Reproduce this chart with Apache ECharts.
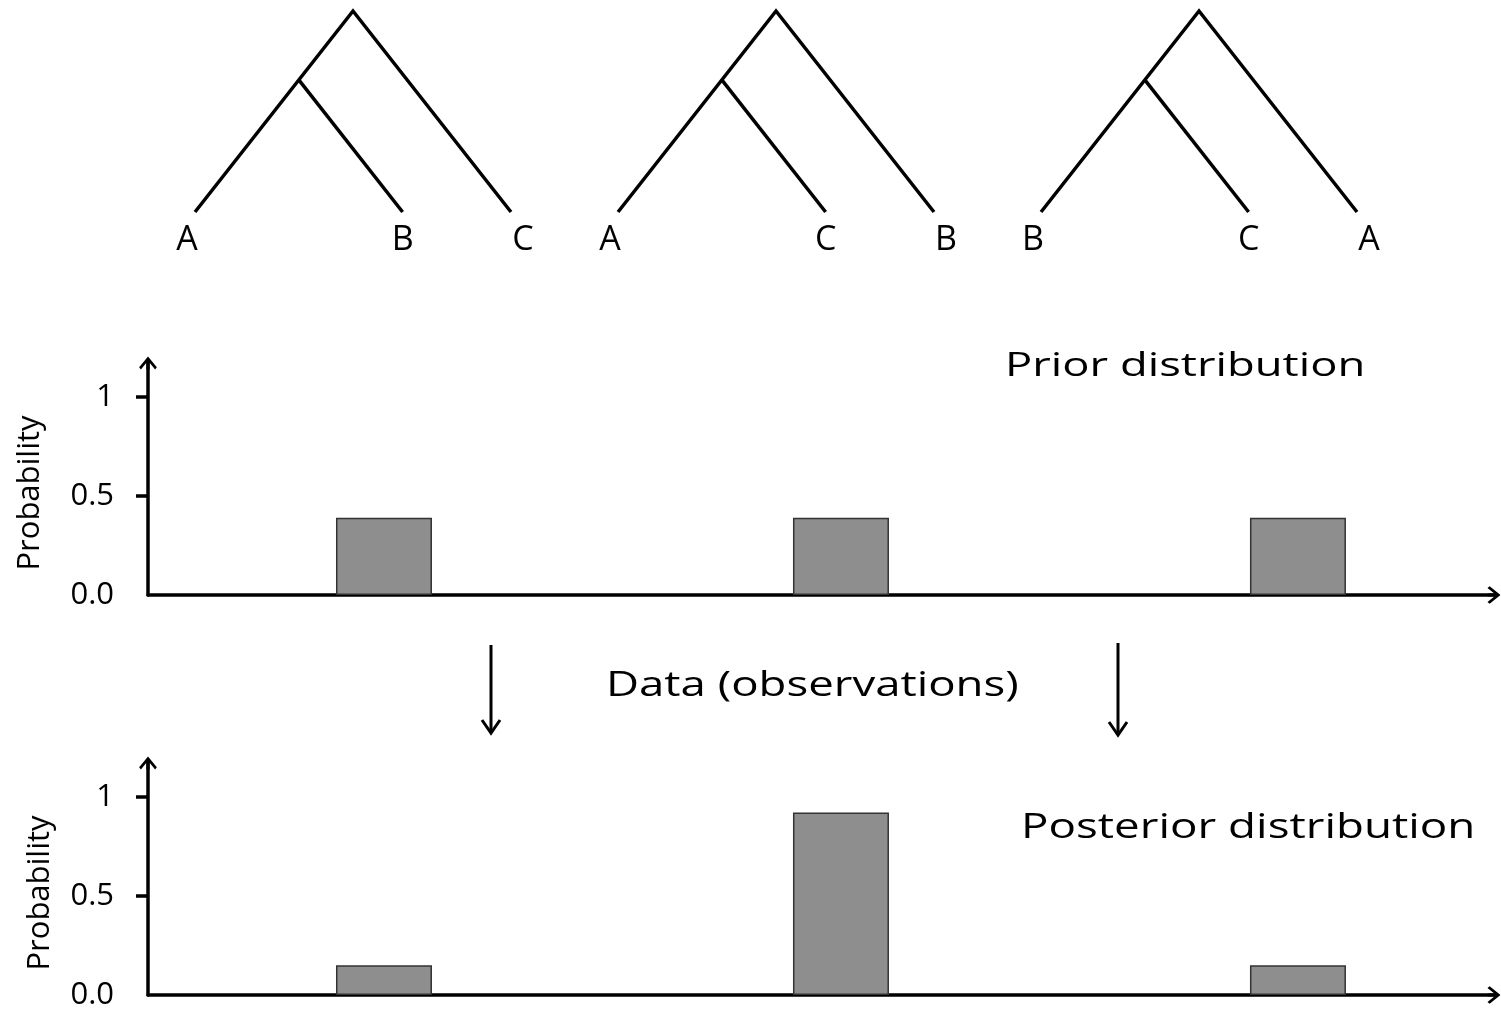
<!DOCTYPE html>
<html><head><meta charset="utf-8">
<script src="https://cdn.jsdelivr.net/npm/echarts@6/dist/echarts.min.js"></script>
<style>html,body{margin:0;padding:0;background:#fff;} #chart{width:1501px;height:1013px;}</style>
</head><body><div id="chart"></div>
<script>
// ---- data ----
const topologies = ['((A,B),C)', '((A,C),B)', '((B,C),A)'];
const treeLeaves = [['A', 'B', 'C'], ['A', 'C', 'B'], ['B', 'C', 'A']];
const cladeHeight = [0.657, 0.657, 0.657];   // relative height of the inner node (root = 1, leaves = 0)
const topologyPos = [1, 2, 3];
const priorProb = [0.39, 0.39, 0.39];
const posteriorProb = [0.15, 0.92, 0.15];
const yTickValues = [0, 0.5, 1];
const yTickLabels = ['0.0', '0.5', '1'];
const titles = ['Prior distribution', 'Posterior distribution'];
const middleText = 'Data (observations)';
const yAxisName = 'Probability';

// ---- style ----
const FONT = 'Open Sans';
const arrowPath = 'path://M9,0 L18,11 L16.2,13.2 L10.6,6.3 L10.6,13 L7.4,13 L7.4,6.3 L1.8,13.2 L0,11 Z';
const HW = 0.3735; // tree half width in tree-axis units

const chart = echarts.init(document.getElementById('chart'), null, { renderer: 'canvas' });

function barXAxis(gi) {
  return {
    type: 'value', gridIndex: gi, min: 0.4836, max: 3.429,
    axisLine: { show: true, onZero: false, symbol: ['none', arrowPath], symbolSize: [18, 13],
      lineStyle: { color: '#000', width: 3.5 } },
    axisTick: { show: false }, axisLabel: { show: false }, splitLine: { show: false }
  };
}
function barYAxis(gi, nameGap) {
  return {
    type: 'value', gridIndex: gi, min: 0, max: 1.17,
    axisLine: { show: true, onZero: false, symbol: ['none', arrowPath], symbolSize: [18, 13],
      lineStyle: { color: '#000', width: 3.5 } },
    axisTick: { show: true, customValues: [0.5, 1], length: 12, lineStyle: { color: '#000', width: 3.5 } },
    axisLabel: { show: true, customValues: yTickValues, margin: 34, color: '#000',
      fontFamily: FONT, fontSize: 31,
      formatter: v => { const k = yTickValues.indexOf(v); return k >= 0 ? yTickLabels[k] : ''; } },
    splitLine: { show: false },
    name: yAxisName, nameLocation: 'middle', nameRotate: 90, nameGap: nameGap,
    nameTextStyle: { fontFamily: FONT, fontSize: 31, color: '#000', padding: [0, 28, 0, 0] }
  };
}

const option = {
  animation: false,
  backgroundColor: '#fff',
  grid: [
    { left: 0, right: 0, top: 11, height: 201, outerBoundsMode: 'none' },
    { left: 148, right: 7, top: 363, height: 232, outerBoundsMode: 'none' },
    { left: 148, right: 7, top: 763, height: 232, outerBoundsMode: 'none' }
  ],
  xAxis: [
    { type: 'value', gridIndex: 0, min: -0.8345, max: 2.7139, show: false },
    barXAxis(1), barXAxis(2)
  ],
  yAxis: [
    { type: 'value', gridIndex: 0, min: 0, max: 1, show: false },
    barYAxis(1, 102), barYAxis(2, 92)
  ],
  series: [
    {
      type: 'custom', xAxisIndex: 0, yAxisIndex: 0,
      data: topologies.map((t, i) => [i, 1]),
      renderItem: function (params, api) {
        const i = api.value(0);
        const h = cladeHeight[i];
        const leaves = treeLeaves[i];
        const root = api.coord([i, 1]);
        const left = api.coord([i - HW, 0]);
        const right = api.coord([i + HW, 0]);
        const inner = api.coord([i - HW * (1 - h), h]);
        const mid = api.coord([i + HW * (2 * h - 1), 0]);
        const ls = { stroke: '#000', lineWidth: 3.5, fill: null, lineJoin: 'miter', lineCap: 'butt' };
        const lx = [left[0] - 8, mid[0], right[0] + 12];
        const texts = leaves.map((name, k) => ({
          type: 'text', x: lx[k], y: left[1] + 28,
          style: { text: name, fontFamily: FONT, fontSize: 34, fill: '#000', align: 'center', verticalAlign: 'middle' }
        }));
        return {
          type: 'group',
          children: [
            { type: 'polyline', shape: { points: [left, root, right] }, style: ls },
            { type: 'polyline', shape: { points: [inner, mid] }, style: ls }
          ].concat(texts)
        };
      }
    },
    {
      type: 'bar', name: 'Prior', xAxisIndex: 1, yAxisIndex: 1, barWidth: 96,
      data: priorProb.map((p, i) => [topologyPos[i], p]),
      itemStyle: { color: '#8e8e8e', borderColor: '#333', borderWidth: 1.5 }
    },
    {
      type: 'bar', name: 'Posterior', xAxisIndex: 2, yAxisIndex: 2, barWidth: 96,
      data: posteriorProb.map((p, i) => [topologyPos[i], p]),
      itemStyle: { color: '#8e8e8e', borderColor: '#333', borderWidth: 1.5 }
    }
  ],
  graphic: [
    { type: 'text', x: 1005, y: 367, scaleX: 1.375,
      style: { text: titles[0], fontFamily: FONT, fontSize: 33, fill: '#000', align: 'left', verticalAlign: 'middle' } },
    { type: 'text', x: 1021, y: 828, scaleX: 1.345,
      style: { text: titles[1], fontFamily: FONT, fontSize: 34, fill: '#000', align: 'left', verticalAlign: 'middle' } },
    { type: 'text', x: 606, y: 686, scaleX: 1.34,
      style: { text: middleText, fontFamily: FONT, fontSize: 34, fill: '#000', align: 'left', verticalAlign: 'middle' } },
    { type: 'group', children: [
      { type: 'line', shape: { x1: 491, y1: 645, x2: 491, y2: 731 }, style: { stroke: '#000', lineWidth: 3 } },
      { type: 'polyline', shape: { points: [[482, 720], [491, 733], [500, 720]] }, style: { stroke: '#000', lineWidth: 3, fill: null } }
    ]},
    { type: 'group', children: [
      { type: 'line', shape: { x1: 1118, y1: 643, x2: 1118, y2: 733 }, style: { stroke: '#000', lineWidth: 3 } },
      { type: 'polyline', shape: { points: [[1109, 722], [1118, 735], [1127, 722]] }, style: { stroke: '#000', lineWidth: 3, fill: null } }
    ]}
  ]
};
chart.setOption(option);
</script>
</body></html>
